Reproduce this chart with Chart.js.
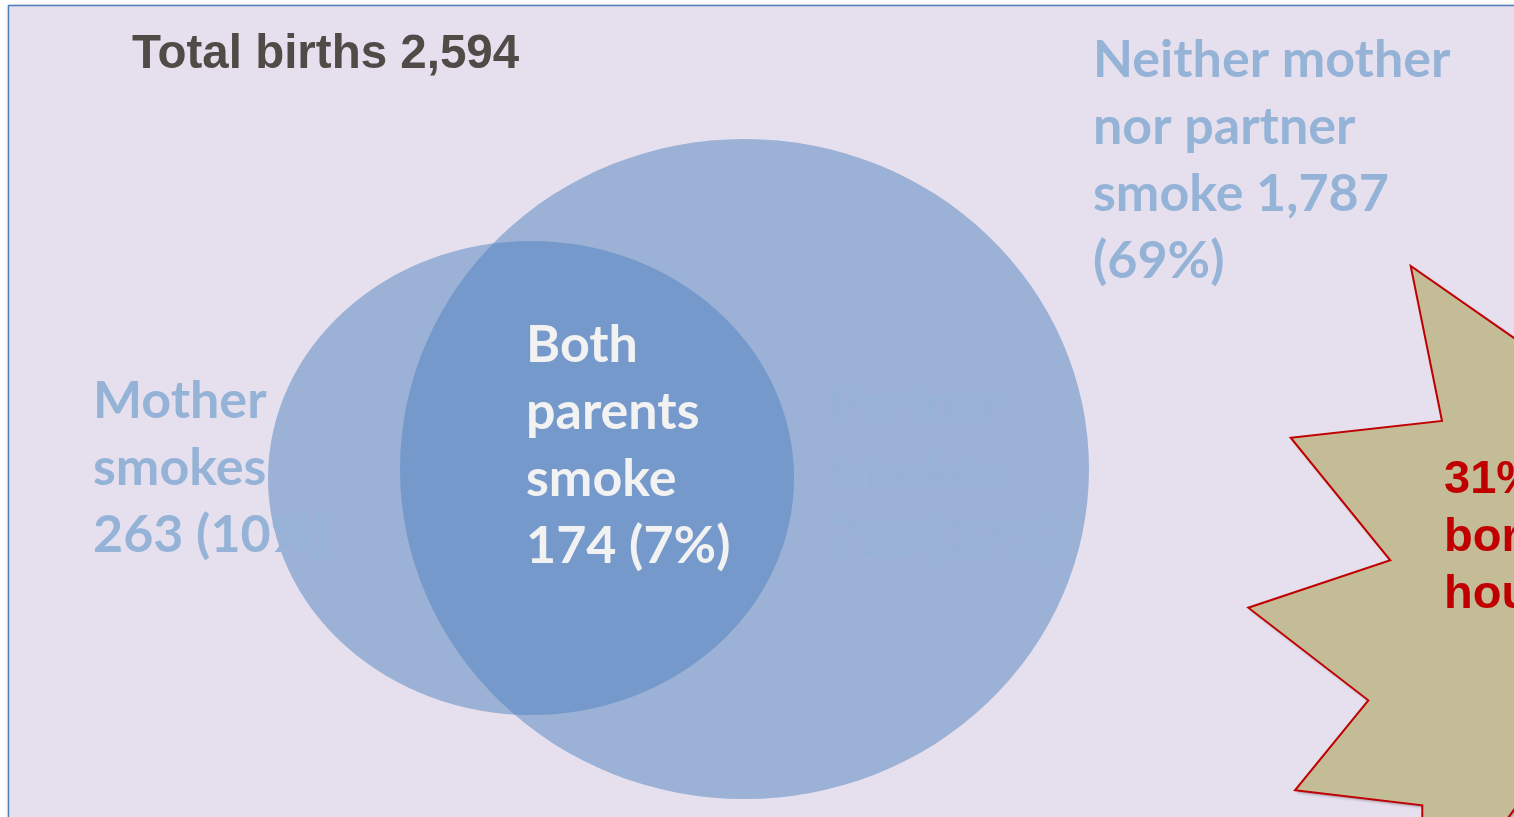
<!DOCTYPE html>
<html>
<head>
<meta charset="utf-8">
<script src="https://cdn.jsdelivr.net/npm/chart.js@4"></script>
<style>
  html, body { margin: 0; padding: 0; background: #ffffff; }
  #wrap { width: 1514px; height: 817px; }
</style>
</head>
<body>
<div id="wrap"><canvas id="venn" width="1514" height="817"></canvas></div>
<script>
// Births by parental smoking status
const totalBirths = 2594;
const categories = ['Mother smokes', 'Both parents smoke', 'Partner smokes', 'Neither mother nor partner smoke'];
const births = [263, 174, 718, 1787];
const shares = [10, 7, 27, 69];
const smokingShare = 31;

// Line breaks for each label ({n} is replaced by count, {p} by percent)
const labelLines = [
    ['Mother', 'smokes', '{n} ({p}%)'],
    ['Both', 'parents', 'smoke', '{n} ({p}%)'],
    ['Partner', 'smokes', '{n} ({p}%)'],
    ['Neither mother', 'nor partner', 'smoke {n}', '({p}%)']
];

// Layout (in scale units, which map 1:1 to canvas pixels)
const ellipses = [
    { cx: 531, cy: 478, rx: 263, ry: 237 },   // mother
    { cx: 744.5, cy: 469, rx: 344.5, ry: 330 } // partner
];
const labelPos = [
    { x: 93, y: 418, color: '#95b3d7' },
    { x: 526, y: 362, color: '#f2f2f2' },
    { x: 828, y: 422, color: '#98b1d6' },
    { x: 1093, y: 77, color: '#95b3d7' }
];
const starPoints = [
    [1410.7, 266], [1442, 421], [1290.7, 437.7], [1390.3, 560.3], [1248.3, 607.7],
    [1368.3, 700.3], [1295, 790.3], [1422.3, 805.3], [1422, 936], [1540, 774],
    [1700, 650], [1700, 300], [1560, 370]
];
const starLines = [smokingShare + '% of babies', 'born into smoking', 'households'];

const fmt = v => v.toLocaleString('en-US');

const vennPlugin = {
    id: 'venn',
    beforeDraw(chart) {
        const { ctx, scales: { x, y } } = chart;
        const px = v => x.getPixelForValue(v);
        const py = v => y.getPixelForValue(v);

        ctx.save();
        ctx.fillStyle = '#ffffff';
        ctx.fillRect(0, 0, chart.width, chart.height);

        // frame
        ctx.shadowColor = 'rgba(0,0,0,0.25)';
        ctx.shadowBlur = 4;
        ctx.fillStyle = '#e6e0ee';
        ctx.fillRect(8.5, 5.5, chart.width + 20, chart.height + 20);
        ctx.shadowColor = 'transparent';
        ctx.strokeStyle = '#4f81bd';
        ctx.lineWidth = 1.5;
        ctx.strokeRect(8.5, 5.5, chart.width + 20, chart.height + 20);

        // title
        ctx.fillStyle = '#504b46';
        ctx.font = 'bold 47.5px "Liberation Sans", Arial, sans-serif';
        ctx.textBaseline = 'alphabetic';
        ctx.fillText('Total births ' + fmt(totalBirths), 132, 68);

        // sets
        ellipses.forEach(e => {
            const cx = px(e.cx), cy = py(e.cy);
            const rx = Math.abs(px(e.cx + e.rx) - cx);
            const ry = Math.abs(py(e.cy + e.ry) - cy);
            ctx.beginPath();
            ctx.ellipse(cx, cy, rx, ry, 0, 0, Math.PI * 2);
            ctx.fillStyle = 'rgba(79, 129, 189, 0.5)';
            ctx.fill();
        });

        // labels
        ctx.font = 'bold 52px Lato, "Open Sans", sans-serif';
        categories.forEach((cat, i) => {
            const pos = labelPos[i];
            ctx.fillStyle = pos.color;
            labelLines[i].forEach((line, j) => {
                const text = line.replace('{n}', fmt(births[i])).replace('{p}', shares[i]);
                ctx.fillText(text, px(pos.x), py(pos.y) + j * 67);
            });
        });

        // starburst callout
        ctx.beginPath();
        starPoints.forEach((p, i) => {
            if (i === 0) ctx.moveTo(px(p[0]), py(p[1]));
            else ctx.lineTo(px(p[0]), py(p[1]));
        });
        ctx.closePath();
        ctx.shadowColor = 'rgba(60,40,60,0.45)';
        ctx.shadowBlur = 3;
        ctx.shadowOffsetX = 2;
        ctx.shadowOffsetY = 2;
        ctx.fillStyle = '#c4bc96';
        ctx.fill();
        ctx.shadowColor = 'transparent';
        ctx.strokeStyle = '#c00000';
        ctx.lineWidth = 2;
        ctx.lineJoin = 'miter';
        ctx.stroke();

        ctx.fillStyle = '#c00000';
        ctx.font = 'bold 47px "Liberation Sans", Arial, sans-serif';
        starLines.forEach((line, j) => {
            ctx.fillText(line, px(1444), py(493) + j * 57.5);
        });
        ctx.restore();
    }
};

new Chart(document.getElementById('venn'), {
    type: 'scatter',
    data: {
        datasets: [{
            label: 'Births',
            data: [],
            pointRadius: 0
        }]
    },
    options: {
        responsive: false,
        animation: false,
        layout: { padding: 0 },
        plugins: {
            legend: { display: false },
            tooltip: { enabled: false },
            title: { display: false }
        },
        scales: {
            x: { type: 'linear', min: 0, max: 1514, display: false },
            y: { type: 'linear', min: 0, max: 817, reverse: true, display: false }
        }
    },
    plugins: [vennPlugin]
});
</script>
</body>
</html>
